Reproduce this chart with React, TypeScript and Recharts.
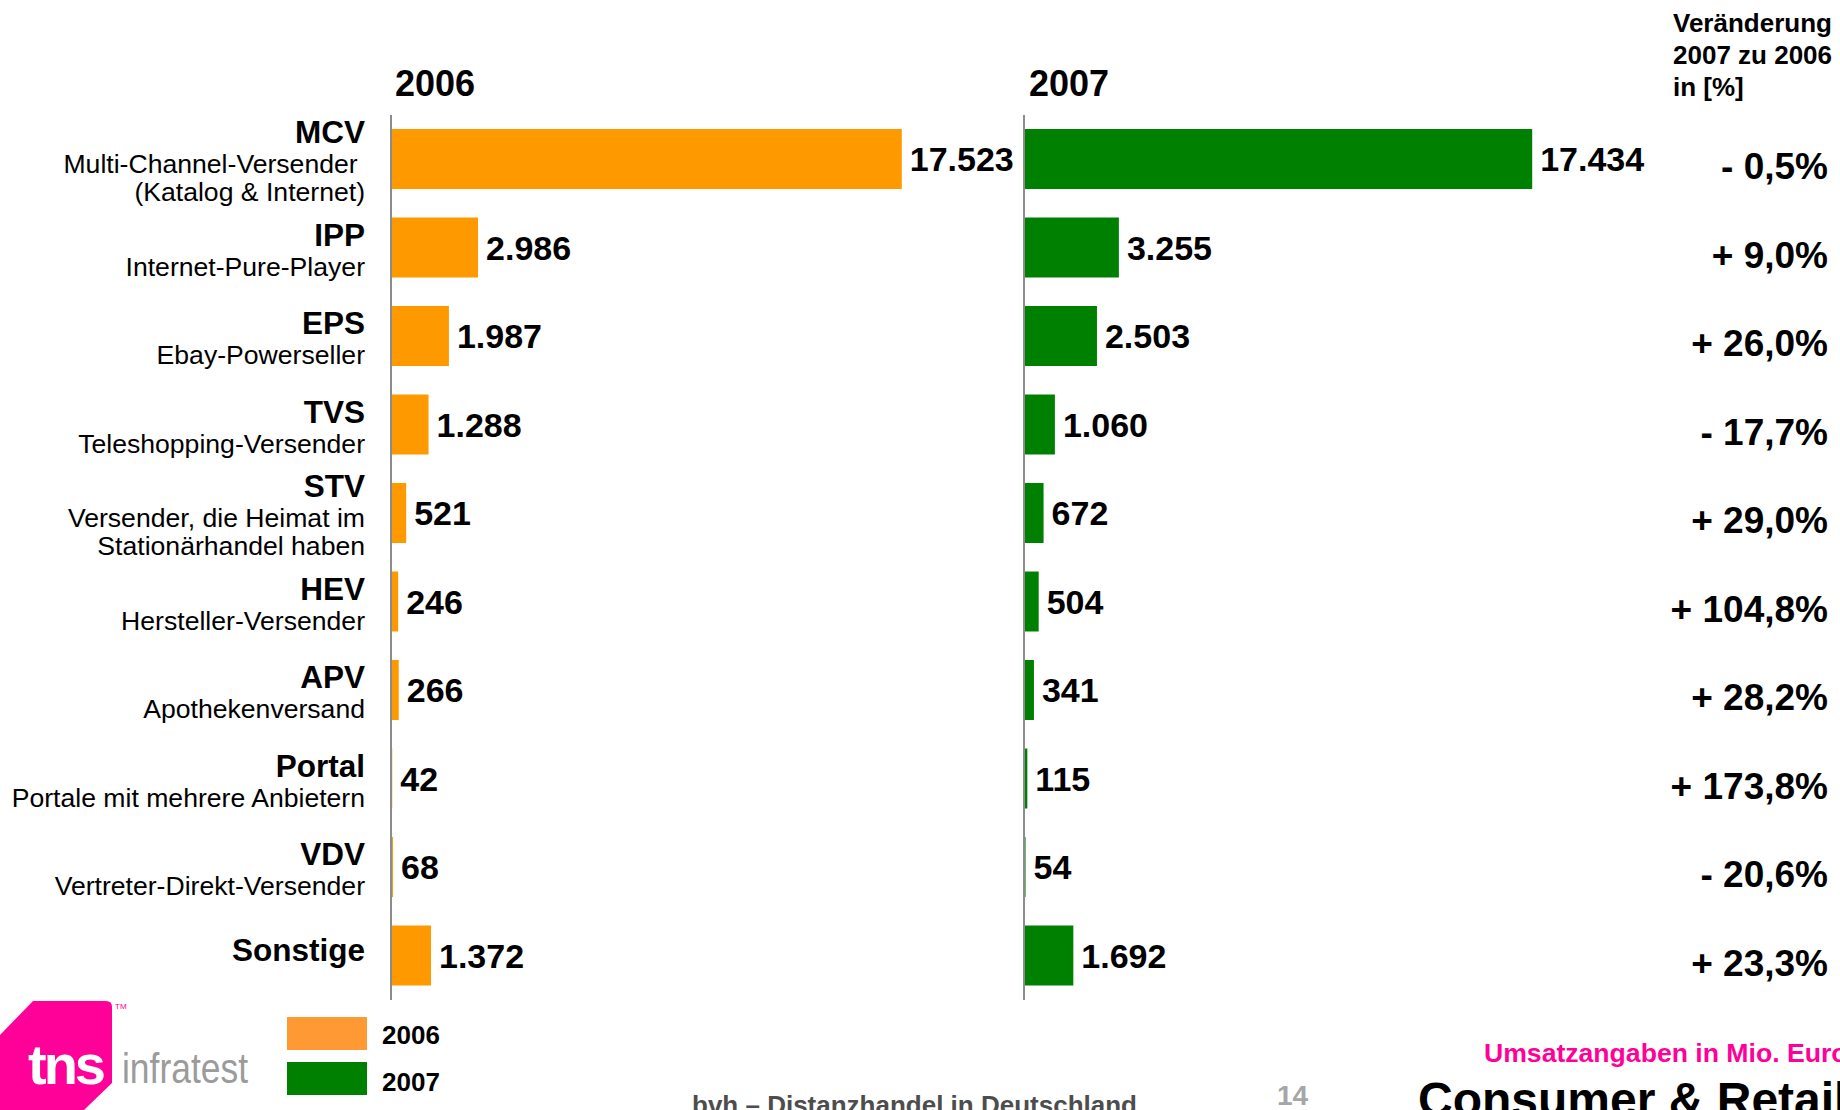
import React from 'react';
import { BarChart, Bar, XAxis, YAxis, LabelList } from 'recharts';

// ---------- data ----------
const codes = ['MCV', 'IPP', 'EPS', 'TVS', 'STV', 'HEV', 'APV', 'Portal', 'VDV', 'Sonstige'];
const descriptions: string[][] = [
  ['Multi-Channel-Versender ', '(Katalog & Internet)'],
  ['Internet-Pure-Player'],
  ['Ebay-Powerseller'],
  ['Teleshopping-Versender'],
  ['Versender, die Heimat im', 'Stationärhandel haben'],
  ['Hersteller-Versender'],
  ['Apothekenversand'],
  ['Portale mit mehrere Anbietern'],
  ['Vertreter-Direkt-Versender'],
  [],
];
const values2006 = [17523, 2986, 1987, 1288, 521, 246, 266, 42, 68, 1372];
const values2007 = [17434, 3255, 2503, 1060, 672, 504, 341, 115, 54, 1692];
const changePct = ['- 0,5%', '+ 9,0%', '+ 26,0%', '- 17,7%', '+ 29,0%', '+ 104,8%', '+ 28,2%', '+ 173,8%', '- 20,6%', '+ 23,3%'];
const seriesNames = ['2006', '2007'];
const barColors = ['#FF9900', '#008000'];
const legendColors = ['#FF9933', '#008000'];
const xDomain: [number, number] = [0, 20000];
const changeHeader = ['Veränderung', '2007 zu 2006', 'in [%]'];

const rows = codes.map((c, i) => ({ code: c, v2006: values2006[i], v2007: values2007[i] }));

// ---------- helpers ----------
const FONT = '"Liberation Sans", Arial, Helvetica, sans-serif';
const fmt = (v: number) => String(v).replace(/\B(?=(\d{3})+(?!\d))/g, '.');

const W = 1840;
const H = 1110;
const MARGIN_TOP = 115;
const MARGIN_BOTTOM = 110;
const PLOT_W = 583;
const AXIS_COLOR = '#8c8c8c';
const LEFT_CHART_W = 1040;

const CategoryTick = (props: any) => {
  const { y, payload } = props;
  const i = codes.indexOf(payload.value);
  const subs = descriptions[i] || [];
  const nameOff = subs.length === 2 ? -16 : subs.length === 1 ? -2 : 5;
  const subOff = subs.length === 2 ? 14 : 28;
  const xr = 365;
  return (
    <g>
      <text x={xr} y={y + nameOff} textAnchor="end" fontSize={31.5} fontWeight="bold" fill="#000" fontFamily={FONT}>
        {payload.value}
      </text>
      {subs.map((s, k) => (
        <text
          key={k}
          x={xr}
          y={y + subOff + k * 28}
          textAnchor="end"
          fontSize={26.6}
          fill="#000"
          fontFamily={FONT}
          style={{ whiteSpace: 'pre' }}
        >
          {s}
        </text>
      ))}
    </g>
  );
};

const PctTick = (props: any) => {
  const { y, payload } = props;
  const i = codes.indexOf(payload.value);
  return (
    <text x={828} y={y + 20} textAnchor="end" fontSize={37} fontWeight="bold" fill="#000" fontFamily={FONT}>
      {changePct[i]}
    </text>
  );
};

const ValueLabel = (props: any) => {
  const vb = props.viewBox && props.viewBox.width !== undefined ? props.viewBox : props;
  const x = Number(vb.x) + Number(vb.width || 0);
  const y = Number(vb.y) + Number(vb.height || 0) / 2;
  return (
    <text x={x + 8} y={y + 12} fontSize={34} fontWeight="bold" fill="#000" fontFamily={FONT}>
      {fmt(Number(props.value))}
    </text>
  );
};

export default function App() {
  return (
    <div
      style={{
        position: 'absolute',
        left: 0,
        top: 0,
        width: W,
        height: H,
        overflow: 'hidden',
        background: '#fff',
        fontFamily: FONT,
      }}
    >
      {/* 2006 panel */}
      <div style={{ position: 'absolute', left: 0, top: 0 }}>
        <BarChart
          width={LEFT_CHART_W}
          height={H}
          data={rows}
          layout="vertical"
          margin={{ top: MARGIN_TOP, right: LEFT_CHART_W - 391 - PLOT_W, bottom: MARGIN_BOTTOM, left: 0 }}
        >
          <XAxis type="number" domain={xDomain} hide />
          <YAxis
            type="category"
            dataKey="code"
            width={391}
            axisLine={{ stroke: AXIS_COLOR, strokeWidth: 2 }}
            tickLine={false}
            tick={<CategoryTick />}
            interval={0}
          />
          <Bar dataKey="v2006" fill={barColors[0]} barSize={60} isAnimationActive={false}>
            <LabelList dataKey="v2006" content={<ValueLabel />} />
          </Bar>
        </BarChart>
      </div>

      {/* 2007 panel */}
      <div style={{ position: 'absolute', left: 1000, top: 0 }}>
        <BarChart
          width={840}
          height={H}
          data={rows}
          layout="vertical"
          margin={{ top: MARGIN_TOP, right: 0, bottom: MARGIN_BOTTOM, left: 0 }}
        >
          <XAxis type="number" domain={xDomain} hide />
          <YAxis
            yAxisId="l"
            type="category"
            dataKey="code"
            width={24}
            axisLine={{ stroke: AXIS_COLOR, strokeWidth: 2 }}
            tickLine={false}
            tick={false}
            interval={0}
          />
          <YAxis
            yAxisId="r"
            orientation="right"
            type="category"
            dataKey="code"
            width={840 - 24 - PLOT_W}
            axisLine={false}
            tickLine={false}
            tick={<PctTick />}
            interval={0}
          />
          <Bar yAxisId="l" dataKey="v2007" fill={barColors[1]} barSize={60} isAnimationActive={false}>
            <LabelList dataKey="v2007" content={<ValueLabel />} />
          </Bar>
        </BarChart>
      </div>

      {/* overlay: titles, legend, logo, footer */}
      <svg
        width={W}
        height={H}
        style={{ position: 'absolute', left: 0, top: 0, pointerEvents: 'none' }}
        fontFamily={FONT}
      >
        <text x={395} y={96} fontSize={36} fontWeight="bold" fill="#000">{seriesNames[0]}</text>
        <text x={1029} y={96} fontSize={36} fontWeight="bold" fill="#000">{seriesNames[1]}</text>
        {changeHeader.map((t, k) => (
          <text key={k} x={1673} y={32 + k * 32} fontSize={26} fontWeight="bold" fill="#000">{t}</text>
        ))}

        {/* legend */}
        {seriesNames.map((n, k) => (
          <g key={n}>
            <rect x={287} y={1017 + k * 45} width={80} height={33} fill={legendColors[k]} />
            <text x={382} y={1044 + k * 47} fontSize={26} fontWeight="bold" fill="#000">{n}</text>
          </g>
        ))}

        {/* logo */}
        <path d="M0,1035 L33,1001 L106,1001 Q112,1001 112,1007 L112,1083 L84,1110 L0,1110 Z" fill="#FF0099" />
        <text x={28} y={1084} fontSize={56} fontWeight="bold" fill="#fff" letterSpacing={-3}>tns</text>
        <text x={115} y={1009} fontSize={8} fill="#FF0099">TM</text>
        <text x={122} y={1083} fontSize={42} fill="#9b9b9b" textLength={126} lengthAdjust="spacingAndGlyphs">infratest</text>

        {/* footer */}
        <text x={692} y={1114} fontSize={26} fontWeight="bold" fill="#4d4d4d">bvh – Distanzhandel in Deutschland</text>
        <text x={1277} y={1105} fontSize={28} fontWeight="bold" fill="#a6a6a6">14</text>
        <text x={1484} y={1062} fontSize={26.6} fontWeight="bold" fill="#FF0099">Umsatzangaben in Mio. Euro</text>
        <text x={1418} y={1116} fontSize={48} fontWeight="bold" fill="#000">Consumer &amp; Retail</text>
      </svg>
    </div>
  );
}
